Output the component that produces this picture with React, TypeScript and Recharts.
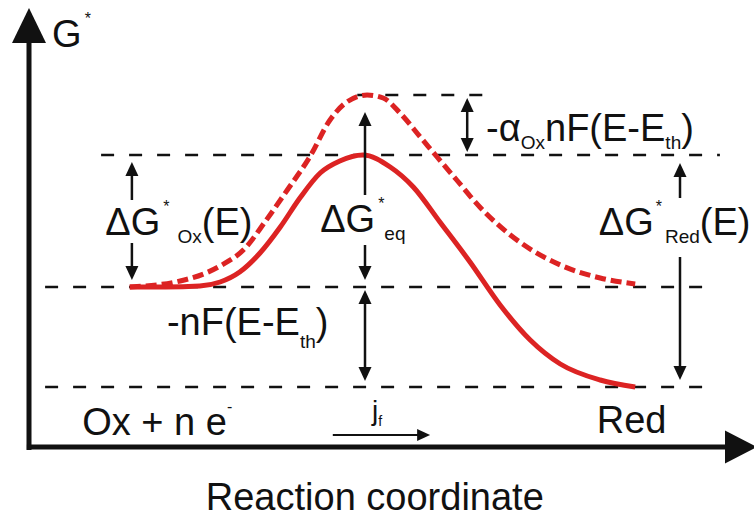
import { LineChart, Line, XAxis, YAxis, ReferenceLine, ReferenceDot } from "recharts";

// free energy levels (arbitrary units)
const LEVEL_RED = 3;
const LEVEL_OX = 8;
const LEVEL_EQ_TS = 14.6;
const LEVEL_SHIFTED_TS = 17.6;

// curve at equilibrium (solid) and shifted by the applied potential (dashed)
const SOLID_X = [14.4, 19.5, 24.4, 27.3, 30.1, 33.0, 35.9, 38.7, 41.6, 44.4, 47.7, 51.6, 54.9, 58.7, 63.0, 67.3, 71.6, 75.9, 81.6, 86.6];
const SOLID_G = [8.0, 8.0, 8.05, 8.25, 8.75, 9.7, 11.0, 12.45, 13.7, 14.3, 14.6, 14.0, 13.0, 11.25, 9.25, 7.1, 5.35, 4.15, 3.35, 3.0];
const DASHED_X = [14.4, 21.6, 27.3, 30.9, 33.7, 36.9, 40.1, 43.0, 45.4, 48.3, 50.6, 53.0, 55.9, 58.3, 61.1, 64.4, 70.1, 75.9, 81.6, 86.6];
const DASHED_G = [8.0, 8.3, 9.05, 9.95, 11.25, 12.85, 14.5, 16.35, 17.25, 17.6, 17.45, 16.7, 15.5, 14.5, 13.35, 12.0, 10.25, 9.1, 8.45, 8.15];

const solid = SOLID_X.map((x, i) => ({ x, g: SOLID_G[i] }));
const dashed = DASHED_X.map((x, i) => ({ x, g: DASHED_G[i] }));

// dashed guide lines: [level, from, to]
const GUIDES: [number, number, number][] = [
  [LEVEL_SHIFTED_TS, 46.9, 65.6],
  [LEVEL_EQ_TS, 10.3, 98.7],
  [LEVEL_OX, 2.3, 97.3],
  [LEVEL_RED, 2.3, 97.6],
];

// vertical arrows: [x, from, to, double-headed]
const ARROWS: [number, number, number, boolean][] = [
  [14.7, 12.35, 14.25, false],
  [14.7, 10.2, 8.35, false],
  [48.0, 12.6, 16.75, false],
  [48.0, 10.1, 8.35, false],
  [62.6, 14.75, 17.45, true],
  [93.0, 12.45, 14.2, false],
  [93.0, 9.5, 3.35, false],
  [48.0, 3.3, 7.85, true],
];

type Part = { t: string; kind?: "sup" | "sub"; dx?: number; drop?: number };
type Note = { x: number; y: number; parts: Part[]; size?: number; anchor?: "start" | "middle" };

const NOTES: Note[] = [
  { x: 3.3, y: 20.0, parts: [{ t: "G" }, { t: "*", kind: "sup", dx: 3 }] },
  { x: 10.9, y: 10.6, parts: [{ t: "ΔG" }, { t: "*", kind: "sup", dx: 3 }, { t: "Ox", kind: "sub", dx: 8 }, { t: "(E)" }] },
  { x: 41.6, y: 10.75, parts: [{ t: "ΔG" }, { t: "*", kind: "sup", dx: 3 }, { t: "eq", kind: "sub" }] },
  { x: 81.4, y: 10.6, parts: [{ t: "ΔG" }, { t: "*", kind: "sup", dx: 2 }, { t: "Red", kind: "sub", dx: 3 }, { t: "(E)" }] },
  { x: 65.3, y: 15.3, parts: [{ t: "-α" }, { t: "Ox", kind: "sub" }, { t: "nF(E-E" }, { t: "th", kind: "sub" }, { t: ")" }] },
  { x: 19.7, y: 5.6, parts: [{ t: "-nF(E-E" }, { t: "th", kind: "sub", drop: 5 }, { t: ")" }] },
  { x: 7.6, y: 0.6, parts: [{ t: "Ox + n e" }, { t: "-", kind: "sup" }] },
  { x: 49.0, y: 1.35, size: 28, parts: [{ t: "j" }, { t: "f", kind: "sub" }] },
  { x: 81.1, y: 0.7, parts: [{ t: "Red" }] },
  { x: 49.4, y: -3.15, anchor: "middle", parts: [{ t: "Reaction coordinate" }] },
];

const RED = "#dc2323";
const INK = "#111111";
const FONT = "'Liberation Sans', Arial, sans-serif";

function head(tx: number, ty: number, fx: number, fy: number, len: number, w: number) {
  const d = Math.hypot(tx - fx, ty - fy) || 1;
  const ux = (tx - fx) / d;
  const uy = (ty - fy) / d;
  const bx = tx - ux * len;
  const by = ty - uy * len;
  return `${tx},${ty} ${bx - uy * w / 2},${by + ux * w / 2} ${bx + uy * w / 2},${by - ux * w / 2}`;
}

function arrowShape(both: boolean, sw = 2.5, len = 14, w = 13) {
  return (p: any) => {
    const { x1, y1, x2, y2 } = p;
    if (x1 == null || y1 == null) return <g />;
    const d = Math.hypot(x2 - x1, y2 - y1) || 1;
    const ux = (x2 - x1) / d;
    const uy = (y2 - y1) / d;
    const sx = both ? x1 + ux * len * 0.8 : x1;
    const sy = both ? y1 + uy * len * 0.8 : y1;
    return (
      <g>
        <line x1={sx} y1={sy} x2={x2 - ux * len * 0.8} y2={y2 - uy * len * 0.8} stroke={INK} strokeWidth={sw} />
        <polygon points={head(x2, y2, x1, y1, len, w)} fill={INK} />
        {both && <polygon points={head(x1, y1, x2, y2, len, w)} fill={INK} />}
      </g>
    );
  };
}

function Rich({ x, y, note }: { x: number; y: number; note: Note }) {
  const size = note.size ?? 38;
  let shift = 0;
  const spans = note.parts.map((p, i) => {
    const target = p.kind === "sup" ? -size * 0.6 : p.kind === "sub" ? size * 0.22 + (p.drop ?? 0) : 0;
    const dy = target - shift;
    shift = target;
    const fs = p.kind === "sup" ? size * 0.42 : p.kind === "sub" ? size * 0.5 : size;
    return (
      <tspan key={i} dy={dy} dx={p.dx ?? 0} fontSize={fs}>
        {p.t}
      </tspan>
    );
  });
  return (
    <text x={x} y={y} fontSize={size} fontFamily={FONT} fill={INK} textAnchor={note.anchor ?? "start"}>
      {spans}
    </text>
  );
}

export default function App() {
  return (
    <div style={{ position: "absolute", left: 0, top: 0, width: 754, height: 520, background: "#fff" }}>
      <LineChart width={754} height={520} margin={{ top: 47, right: 25, bottom: 73, left: 29 }}>
        <XAxis type="number" dataKey="x" domain={[0, 100]} hide />
        <YAxis type="number" domain={[0, 20]} hide />
        {GUIDES.map(([g, a, b], i) => (
          <ReferenceLine
            key={`gd${i}`}
            segment={[{ x: a, y: g }, { x: b, y: g }]}
            stroke={INK}
            strokeWidth={2.5}
            strokeDasharray="13 15"
            ifOverflow="visible"
          />
        ))}
        <Line data={dashed} dataKey="g" type="monotone" stroke={RED} strokeWidth={5} strokeDasharray="11 5" dot={false} activeDot={false} isAnimationActive={false} />
        <Line data={solid} dataKey="g" type="monotone" stroke={RED} strokeWidth={5} dot={false} activeDot={false} isAnimationActive={false} />
        {ARROWS.map(([x, a, b, both], i) => (
          <ReferenceLine key={`ar${i}`} segment={[{ x, y: a }, { x, y: b }]} ifOverflow="visible" shape={arrowShape(both)} />
        ))}
        <ReferenceLine segment={[{ x: 43.4, y: 0.6 }, { x: 57.3, y: 0.6 }]} ifOverflow="visible" shape={arrowShape(false, 2, 13, 12)} />
        {/* axes */}
        <ReferenceLine segment={[{ x: -0.3, y: 0 }, { x: 104, y: 0 }]} ifOverflow="visible" shape={arrowShape(false, 5, 32, 33)} />
        <ReferenceLine segment={[{ x: 0, y: -0.15 }, { x: 0, y: 21.95 }]} ifOverflow="visible" shape={arrowShape(false, 5, 35, 34)} />
        {NOTES.map((n, i) => (
          <ReferenceDot
            key={`nt${i}`}
            x={n.x}
            y={n.y}
            r={0}
            ifOverflow="visible"
            shape={(p: any) => <Rich x={p.cx} y={p.cy} note={n} />}
          />
        ))}
      </LineChart>
    </div>
  );
}
